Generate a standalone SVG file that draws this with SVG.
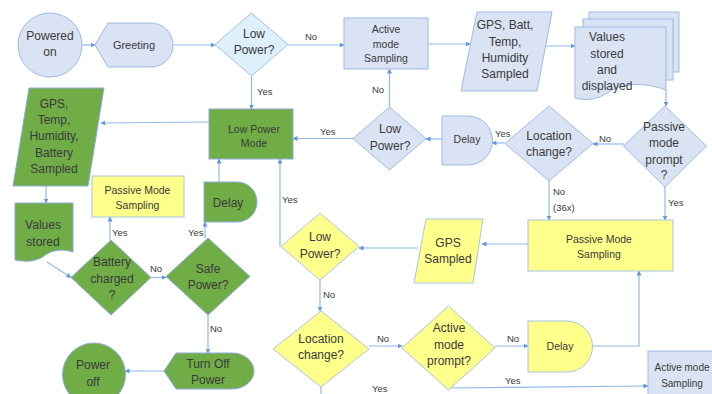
<svg xmlns="http://www.w3.org/2000/svg" width="712" height="394" viewBox="0 0 712 394">
<style>
text{font-family:"Liberation Sans",Arial,sans-serif;fill:#3a3a3a;text-anchor:middle}
.t{font-size:12px}
.s{font-size:10.5px}
.l{font-size:9.5px;text-anchor:start}
.blue{fill:#dae3f3;stroke:#9dbbe3;stroke-width:1}
.lblue{fill:#def0fb;stroke:#9dc3e6;stroke-width:1}
.green{fill:#70ad47;stroke:#8faadc;stroke-width:1}
.yellow{fill:#ffff8c;stroke:#a9c4e4;stroke-width:1}
.c{fill:none;stroke:#93b8e8;stroke-width:1.2}
.a{marker-end:url(#ah)}
</style>
<defs>
<marker id="ah" viewBox="0 0 10 10" refX="9" refY="5" markerWidth="5" markerHeight="5" markerUnits="userSpaceOnUse" orient="auto">
<path d="M0,0 L10,5 L0,10 Z" fill="#5f97e0"/>
</marker>
</defs>
<rect width="712" height="394" fill="#ffffff"/>

<g id="connectors">
<path class="c a" d="M82,45 H95"/>
<path class="c a" d="M173,45 H215"/>
<path class="c a" d="M288,45 H344"/>
<path class="c a" d="M251.5,76 V109"/>
<path class="c a" d="M428,44 H470"/>
<path class="c a" d="M541,46 H575"/>
<path class="c a" d="M666,90 V106"/>
<path class="c a" d="M624,144 H593"/>
<path class="c a" d="M505,143 H492"/>
<path class="c a" d="M442,139 H426"/>
<path class="c a" d="M389.5,107 V69"/>
<path class="c a" d="M353,138.5 H293"/>
<path class="c a" d="M209,122 L101,123"/>
<path class="c a" d="M46,186 V203"/>
<path class="c a" d="M47,262 L71,277.5"/>
<path class="c a" d="M151,277.5 H166"/>
<path class="c a" d="M110,240 V217"/>
<path class="c a" d="M205,238 V222"/>
<path class="c a" d="M219,182 V159"/>
<path class="c a" d="M280,246.5 V159"/>
<path class="c a" d="M208,315 V353"/>
<path class="c a" d="M164,371 H125"/>
<path class="c a" d="M549,181 V220"/>
<path class="c a" d="M665,187 V220"/>
<path class="c a" d="M528,244 H482"/>
<path class="c a" d="M418,248 H359"/>
<path class="c a" d="M320,280 V311"/>
<path class="c a" d="M369,346 H402"/>
<path class="c a" d="M495,346 H528"/>
<path class="c a" d="M593,346 H639 V271"/>
<path class="c a" d="M450,388 L648,386"/>
<path class="c" d="M321,387 V394"/>
<text class="l" x="305" y="40">No</text>
<text class="l" x="257" y="95">Yes</text>
<text class="l" x="599" y="142">No</text>
<text class="l" x="495" y="137">Yes</text>
<text class="l" x="372" y="93">No</text>
<text class="l" x="320" y="135">Yes</text>
<text class="l" x="150" y="272">No</text>
<text class="l" x="112" y="236">Yes</text>
<text class="l" x="188" y="236">Yes</text>
<text class="l" x="282" y="203">Yes</text>
<text class="l" x="210" y="332">No</text>
<text class="l" x="553" y="195">No</text>
<text class="l" x="553" y="211">(36x)</text>
<text class="l" x="668" y="206">Yes</text>
<text class="l" x="323" y="298">No</text>
<text class="l" x="377" y="342">No</text>
<text class="l" x="507" y="342">No</text>
<text class="l" x="505" y="384">Yes</text>
<text class="l" x="372" y="392">Yes</text>
</g>

<g id="powered-on">
<circle class="blue" cx="50" cy="45" r="32"/>
<text class="t" x="50" y="40">Powered</text>
<text class="t" x="50" y="56">on</text>
</g>

<g id="greeting">
<path class="blue" d="M95,45 L108,23 H151 A22,22 0 0 1 151,67 H108 Z"/>
<text class="s" x="134" y="49" style="font-size:11px">Greeting</text>
</g>

<g id="low-power-1">
<polygon class="lblue" points="251.5,13 288,44.5 251.5,76 215,44.5"/>
<text class="t" x="254" y="38">Low</text>
<text class="t" x="254" y="54">Power?</text>
</g>

<g id="active-mode-sampling">
<rect class="blue" x="344" y="18" width="84" height="51"/>
<text class="s" x="386" y="33">Active</text>
<text class="s" x="386" y="48">mode</text>
<text class="s" x="386" y="62">Sampling</text>
</g>

<g id="gps-batt-sampled">
<polygon class="blue" points="477,12 552,12 537,91 461,91"/>
<text class="t" x="505" y="29">GPS, Batt,</text>
<text class="t" x="505" y="46">Temp,</text>
<text class="t" x="505" y="62">Humidity</text>
<text class="t" x="505" y="78">Sampled</text>
</g>

<g id="values-stored-displayed">
<rect class="blue" x="589" y="12" width="90" height="60"/>
<rect class="blue" x="583" y="19" width="90" height="61"/>
<path class="blue" d="M575,27 H666 V90 C642,81 622,84 609,92 C597,100 586,101 575,98 Z"/>
<text class="t" x="607" y="41">Values</text>
<text class="t" x="607" y="58">stored</text>
<text class="t" x="607" y="74">and</text>
<text class="t" x="607" y="90">displayed</text>
</g>

<g id="passive-mode-prompt">
<polygon class="blue" points="665,106 706.5,146 665,187 623.5,146"/>
<text class="t" x="664" y="131">Passive</text>
<text class="t" x="664" y="147">mode</text>
<text class="t" x="664" y="164">prompt</text>
<text class="t" x="664" y="179">?</text>
</g>

<g id="location-change-1">
<polygon class="blue" points="549,106 593,143.5 549,181 505,143.5"/>
<text class="t" x="549" y="140">Location</text>
<text class="t" x="549" y="156">change?</text>
</g>

<g id="delay-1">
<path class="blue" d="M442,116 H468 A24.5,24.5 0 0 1 468,165 H442 Z"/>
<text class="s" x="467" y="143">Delay</text>
</g>

<g id="low-power-2">
<polygon class="blue" points="389.5,107 426,138.5 389.5,170 353,138.5"/>
<text class="t" x="390" y="133">Low</text>
<text class="t" x="390" y="150">Power?</text>
</g>

<g id="low-power-mode">
<rect class="green" x="209" y="109" width="84" height="50"/>
<text class="s" x="254" y="133">Low Power</text>
<text class="s" x="254" y="147">Mode</text>
</g>

<g id="gps-temp-humidity-battery">
<polygon class="green" points="29,88 104,88 88,186 13,186"/>
<text class="t" x="54" y="108">GPS,</text>
<text class="t" x="54" y="124">Temp,</text>
<text class="t" x="54" y="140">Humidity,</text>
<text class="t" x="54" y="157">Battery</text>
<text class="t" x="54" y="173">Sampled</text>
</g>

<g id="values-stored">
<path class="green" d="M15,203 H73 V252 C60,248 50,251 44,256 C36,262 25,262 15,260 Z"/>
<text class="t" x="43" y="229">Values</text>
<text class="t" x="43" y="246">stored</text>
</g>

<g id="battery-charged">
<polygon class="green" points="111,240 151,277.5 111,315 71,277.5"/>
<text class="t" x="112" y="266">Battery</text>
<text class="t" x="112" y="282.5">charged</text>
<text class="t" x="112" y="298.5">?</text>
</g>

<g id="passive-mode-sampling-small">
<rect class="yellow" x="92" y="176" width="92" height="41"/>
<text class="s" x="137.5" y="194">Passive Mode</text>
<text class="s" x="137.5" y="209">Sampling</text>
</g>

<g id="safe-power">
<polygon class="green" points="208,238 250,276.5 208,315 166,276.5"/>
<text class="t" x="208" y="272.5">Safe</text>
<text class="t" x="208" y="288.5">Power?</text>
</g>

<g id="delay-green">
<path class="green" d="M204,182 H237 A20,20 0 0 1 237,222 H204 Z"/>
<text class="t" x="228" y="207">Delay</text>
</g>

<g id="turn-off-power">
<path class="green" d="M164,371 L176,353 H232 A22,18 0 0 1 232,389 H176 Z"/>
<text class="t" x="208" y="367.5">Turn Off</text>
<text class="t" x="208" y="384">Power</text>
</g>

<g id="power-off">
<circle class="green" cx="94" cy="374.5" r="31.5"/>
<text class="t" x="93" y="369">Power</text>
<text class="t" x="93" y="386">off</text>
</g>

<g id="low-power-3">
<polygon class="yellow" points="320,213 359,246.5 320,280 281,246.5"/>
<text class="t" x="320" y="241">Low</text>
<text class="t" x="320" y="257.5">Power?</text>
</g>

<g id="gps-sampled">
<polygon class="yellow" points="426,219 483,219 473,283 414,283"/>
<text class="t" x="448" y="246.5">GPS</text>
<text class="t" x="448" y="262.5">Sampled</text>
</g>

<g id="passive-mode-sampling">
<rect class="yellow" x="528" y="220" width="145" height="51"/>
<text class="s" x="599" y="243">Passive Mode</text>
<text class="s" x="599" y="257.5">Sampling</text>
</g>

<g id="location-change-2">
<polygon class="yellow" points="321,311 369,349 321,387 273,349"/>
<text class="t" x="321" y="343">Location</text>
<text class="t" x="321" y="359">change?</text>
</g>

<g id="active-mode-prompt">
<polygon class="yellow" points="448.5,306 495,348 448.5,390 402,348"/>
<text class="t" x="449" y="332">Active</text>
<text class="t" x="449" y="348.5">mode</text>
<text class="t" x="449" y="365">prompt?</text>
</g>

<g id="delay-yellow">
<path class="yellow" d="M528,321 H567 A25.5,25.5 0 0 1 567,372 H528 Z"/>
<text class="s" x="560" y="350">Delay</text>
</g>

<g id="active-mode-sampling-2">
<rect class="blue" x="648" y="351" width="84" height="60"/>
<text class="s" x="682" y="371" style="font-size:10px">Active mode</text>
<text class="s" x="682" y="386.5" style="font-size:10px">Sampling</text>
</g>
</svg>
